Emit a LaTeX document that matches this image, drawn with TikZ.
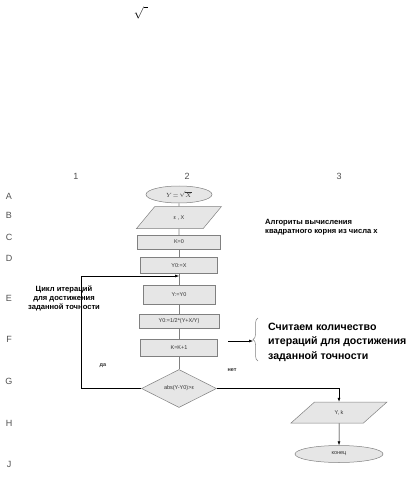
\documentclass[tikz,border=0pt]{standalone}
\usepackage{fontspec}
\setmainfont{Liberation Sans}
\usepackage{xcolor}
\definecolor{ink}{HTML}{333333}
\definecolor{edge}{HTML}{808080}
\definecolor{boxfill}{HTML}{E6E6E6}
\definecolor{muted}{HTML}{505050}
\usepackage{tikz}
\usetikzlibrary{positioning,arrows.meta,shapes.geometric,decorations.pathreplacing}
\tikzset{
  >={Latex[length=4pt,width=3pt]},
  blk/.style={draw=edge,fill=boxfill,line width=0.5pt,text=ink,inner sep=0pt,
    font=\fontsize{5.5}{6.5}\selectfont},
  io/.style={blk,trapezium,trapezium left angle=48,trapezium right angle=132,trapezium stretches=true},
  term/.style={blk,ellipse},
  dec/.style={blk,diamond,aspect=2},
  link/.style={draw=edge,line width=0.6pt},
  flow/.style={->,draw=black,line width=0.5pt},
  lbl/.style={font=\fontsize{5.5}{6.5}\selectfont\bfseries,text=ink},
  rowlbl/.style={font=\fontsize{9}{10}\selectfont,text=muted},
  note/.style={font=\fontsize{7.6}{9}\selectfont\bfseries,text=black,inner sep=0pt},
  bignote/.style={font=\fontsize{10.6}{14.5}\selectfont\bfseries,text=black,inner sep=0pt,align=left},
  brc/.style={draw=edge,line width=0.5pt,decorate,decoration={brace,amplitude=5pt}},
}
\begin{document}
\begin{tikzpicture}[x=1pt,y=-1pt]
  \useasboundingbox (0,0) rectangle (417,478);
  \node[inner sep=0pt,anchor=north] (rad) at (141,6) {\fontsize{13}{13}\selectfont$\sqrt{\hphantom{i}}$};
  % grid labels
  \node[rowlbl] (col1) at (76,176) {1};
  \node[rowlbl] (col2) at (187,176) {2};
  \node[rowlbl] (col3) at (339,176) {3};
  \node[rowlbl] (rowA) at (9,196) {A};
  \node[rowlbl] (rowB) at (9,215) {B};
  \node[rowlbl] (rowC) at (9,237) {C};
  \node[rowlbl] (rowD) at (9,258) {D};
  \node[rowlbl] (rowE) at (9,298) {E};
  \node[rowlbl] (rowF) at (9,339) {F};
  \node[rowlbl] (rowG) at (9,381) {G};
  \node[rowlbl] (rowH) at (9,423) {H};
  \node[rowlbl] (rowJ) at (9,464) {J};
  % main column
  \node[term,minimum width=66pt,minimum height=17pt] (start) at (179,194.5) {\fontsize{6}{7}\selectfont$Y\!=\!\sqrt{X}$};
  \node[io,below=3pt of start,minimum width=85pt,minimum height=22pt] (inp) {ε , X};
  \node[blk,below=6pt of inp,minimum width=83pt,minimum height=14pt] (k0) {K=0};
  \node[blk,below=8pt of k0,minimum width=77pt,minimum height=16pt] (yx) {Y0:=X};
  \node[blk,below=11pt of yx,minimum width=72pt,minimum height=19pt] (yy) {Y:=Y0};
  \node[blk,below=10pt of yy,minimum width=80pt,minimum height=14pt] (ynew) {Y0:=1/2*(Y+X/Y)};
  \node[blk,below=10pt of ynew,minimum width=77pt,minimum height=17pt] (kk) {K=K+1};
  \node[dec,below=13pt of kk,minimum width=75pt,minimum height=38pt] (cond) {abs(Y-Y0)>ε};
  \node[io,minimum width=96pt,minimum height=21pt] (outp) at (339,412.5) {Y, k};
  \node[term,below=22pt of outp,minimum width=88pt,minimum height=17pt] (fin) {конец};
  \coordinate (join) at (179,276);
  \draw[link] (start) -- (inp);
  \draw[link] (inp) -- (k0);
  \draw[link] (k0) -- (yx);
  \draw[link] (yx) -- (yy);
  \draw[link] (yy) -- (ynew);
  \draw[link] (ynew) -- (kk);
  \draw[link] (kk) -- (cond);
  \draw[flow] (cond.west) -- ++(-60,0) |- (join);
  \draw[flow] (cond.east) -| (outp.north);
  \draw[flow] (outp) -- (fin);
  \node[lbl] (yes) at (103,366) {да};
  \node[lbl] (no) at (232,370) {нет};
  % notes
  \node[note,anchor=north west,align=left] (algo) at (265,219) {Алгориты вычисления\\квадратного корня из числа х};
  \node[note,align=center] (loop) at (64,298) {Цикл итераций\\для достижения\\заданной точности};
  \draw[brc] (258,361) -- (258,318);
  \coordinate (ptail) at (228,341);
  \coordinate (phead) at (253,341);
  \draw[flow] (ptail) -- (phead);
  \node[bignote,anchor=west] (count) at (268,342) {Считаем количество\\итераций для достижения\\заданной точности};
\end{tikzpicture}
\end{document}
